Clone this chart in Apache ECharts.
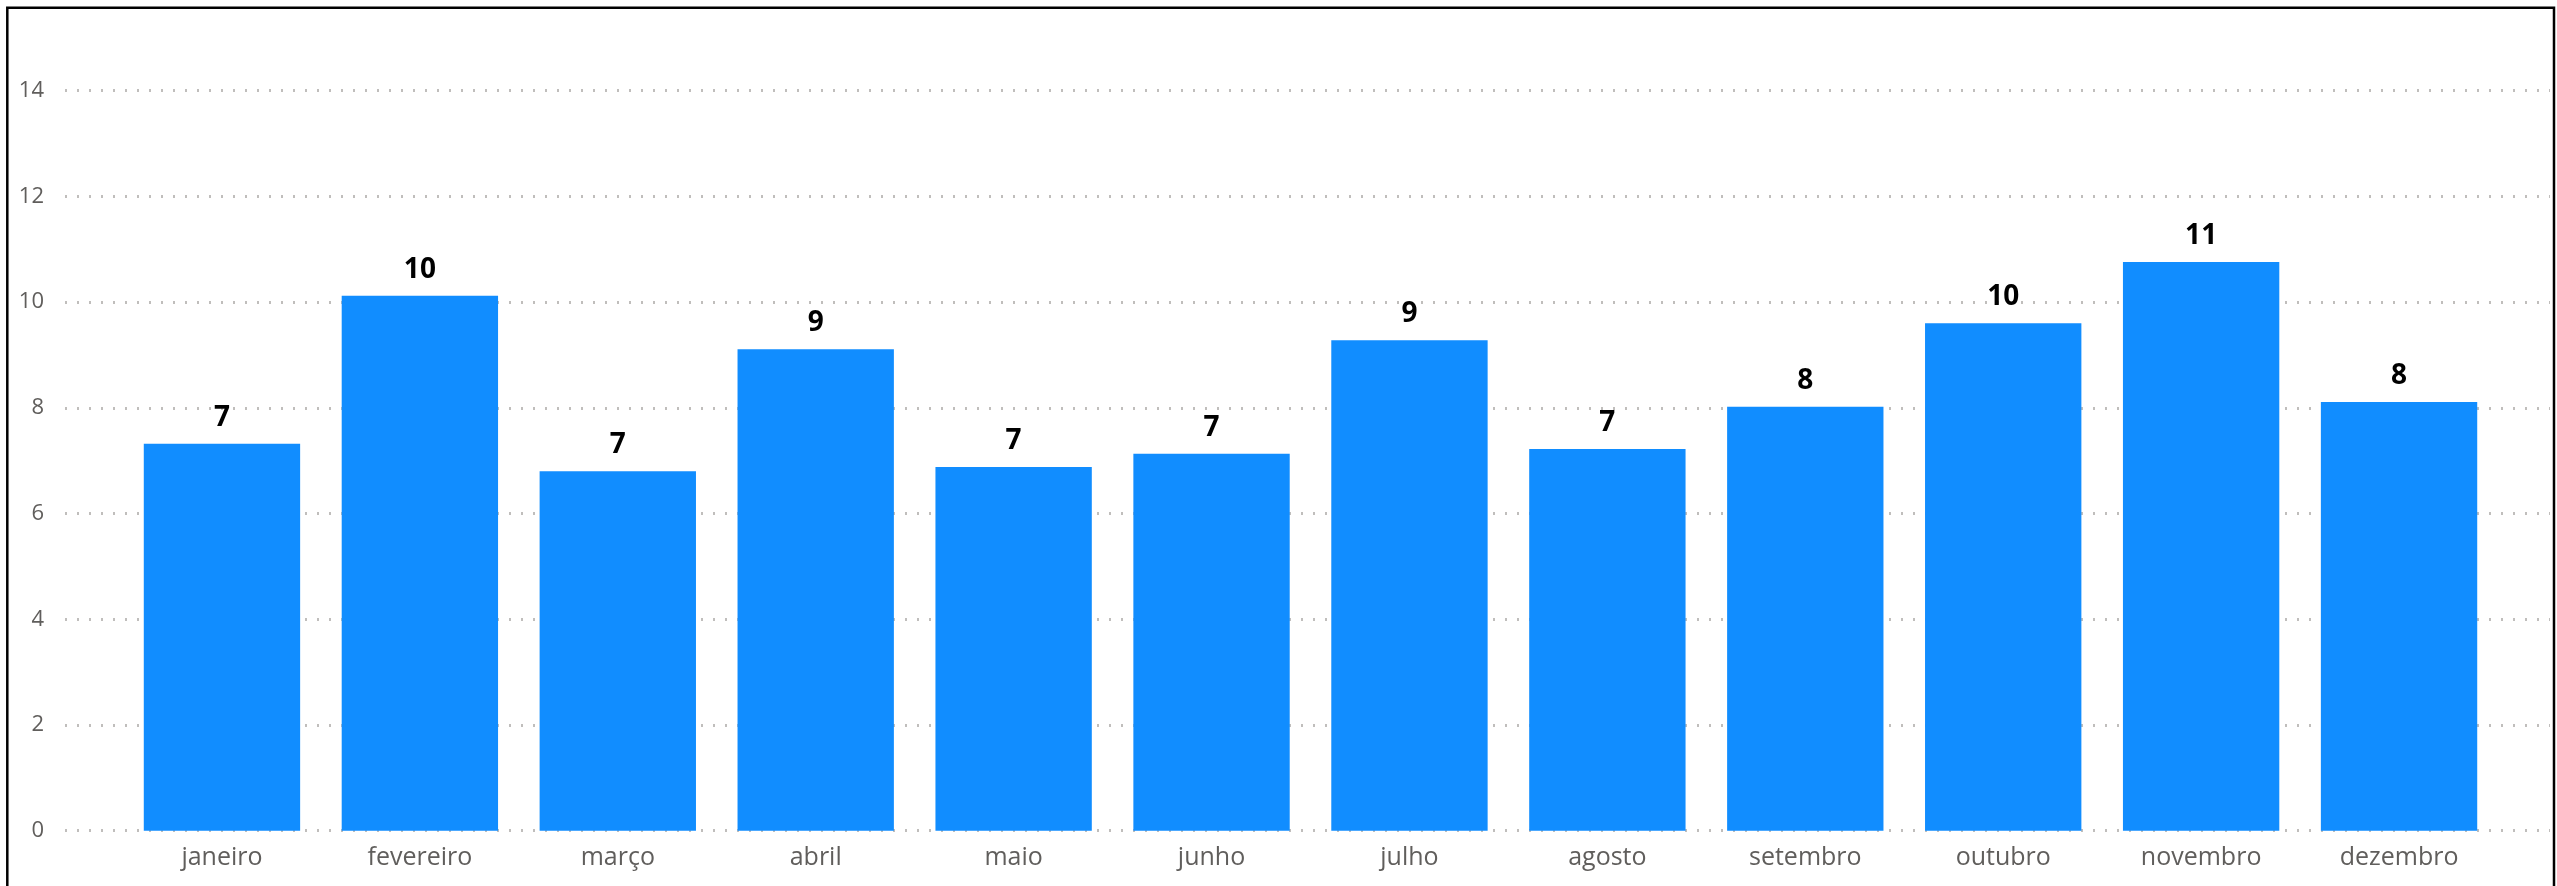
<!DOCTYPE html>
<html>
<head>
<meta charset="utf-8">
<script src="https://cdn.jsdelivr.net/npm/echarts@6/dist/echarts.min.js"></script>
<style>
html,body{margin:0;padding:0;background:#fff;}
#chart{width:2557px;height:886px;}
</style>
</head>
<body>
<div id="chart"></div>
<script>
const months = ['janeiro','fevereiro','março','abril','maio','junho','julho','agosto','setembro','outubro','novembro','dezembro'];
const values = [7.32, 10.12, 6.80, 9.11, 6.88, 7.13, 9.28, 7.22, 8.02, 9.60, 10.76, 8.11];
const yMin = 0, yMax = 14, yStep = 2;

const FONT = '"Segoe UI", "Open Sans", "Noto Sans", sans-serif';
const chart = echarts.init(document.getElementById('chart'), null, {renderer:'canvas'});
const gridTop = 90.7, gridBottom = 55.3;
chart.setOption({
  backgroundColor: '#ffffff',
  animation: false,
  grid: [
    {left: 65, right: 7, top: gridTop, bottom: gridBottom},
    {left: 123, right: 59, top: gridTop, bottom: gridBottom}
  ],
  xAxis: [
    {type: 'value', gridIndex: 0, min: 0, max: 1, show: false},
    {type: 'category', gridIndex: 1, data: months, boundaryGap: true,
     axisLine: {show: false}, axisTick: {show: false},
     axisLabel: {color: '#605E5C', fontSize: 25, fontFamily: FONT, margin: 15, interval: 0}}
  ],
  yAxis: [
    {type: 'value', gridIndex: 0, min: yMin, max: yMax, interval: yStep,
     axisLine: {show: false}, axisTick: {show: false},
     axisLabel: {color: '#605E5C', fontSize: 22, fontFamily: FONT, margin: 21, padding: [5, 0, 0, 0]},
     splitLine: {show: true, lineStyle: {color: '#c0bebc', width: 3, type: [2, 10]}}},
    {type: 'value', gridIndex: 1, min: yMin, max: yMax, interval: yStep, show: false,
     splitLine: {show: false}}
  ],
  series: [{
    type: 'bar', xAxisIndex: 1, yAxisIndex: 1, data: values,
    barCategoryGap: '21%',
    itemStyle: {color: '#118DFF'},
    label: {show: true, position: 'top', distance: 12, color: '#000', fontWeight: 'bold',
            fontSize: 28, fontFamily: FONT,
            formatter: p => Math.round(p.value)}
  }],
  graphic: [{
    type: 'rect', silent: true,
    shape: {x: 7.3, y: 7.8, width: 2546.7, height: 1000},
    style: {fill: 'none', stroke: '#000', lineWidth: 2.5}
  }]
});
</script>
</body>
</html>
